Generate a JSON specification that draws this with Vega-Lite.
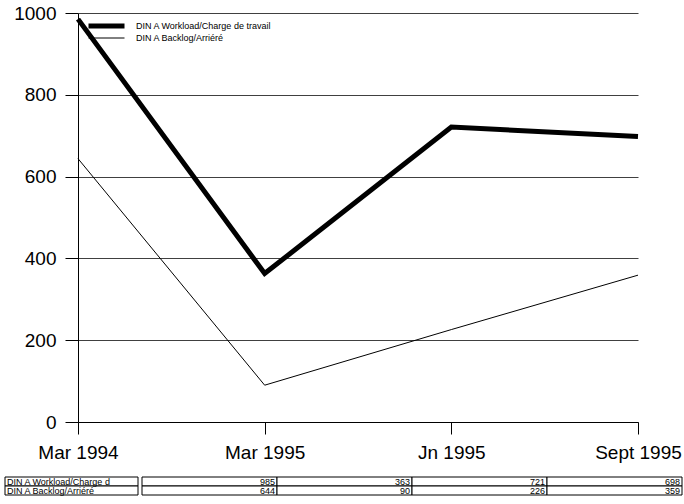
{
  "$schema": "https://vega.github.io/schema/vega-lite/v6.json",
  "background": "white",
  "padding": {"left": 4, "top": 4, "right": 0, "bottom": 0},
  "config": {"view": {"stroke": null}, "font": "Liberation Sans"},
  "spacing": 14,
  "datasets": {
    "rows": [
      {"period": "Mar 1994", "series": "DIN A Workload/Charge de travail", "tableLabel": "DIN A Workload/Charge d", "value": 985},
      {"period": "Mar 1995", "series": "DIN A Workload/Charge de travail", "tableLabel": "DIN A Workload/Charge d", "value": 363},
      {"period": "Jn 1995", "series": "DIN A Workload/Charge de travail", "tableLabel": "DIN A Workload/Charge d", "value": 721},
      {"period": "Sept 1995", "series": "DIN A Workload/Charge de travail", "tableLabel": "DIN A Workload/Charge d", "value": 698},
      {"period": "Mar 1994", "series": "DIN A Backlog/Arriéré", "tableLabel": "DIN A Backlog/Arriéré", "value": 644},
      {"period": "Mar 1995", "series": "DIN A Backlog/Arriéré", "tableLabel": "DIN A Backlog/Arriéré", "value": 90},
      {"period": "Jn 1995", "series": "DIN A Backlog/Arriéré", "tableLabel": "DIN A Backlog/Arriéré", "value": 226},
      {"period": "Sept 1995", "series": "DIN A Backlog/Arriéré", "tableLabel": "DIN A Backlog/Arriéré", "value": 359}
    ]
  },
  "vconcat": [
    {
      "width": 677,
      "height": 409,
      "data": {"name": "rows"},
      "mark": {"type": "line", "color": "black", "strokeJoin": "miter"},
      "encoding": {
        "x": {
          "field": "period", "type": "ordinal",
          "sort": ["Mar 1994", "Mar 1995", "Jn 1995", "Sept 1995"],
          "scale": {"type": "point", "padding": 0, "range": [73, 633]},
          "axis": {"title": null, "labelAngle": 0, "labelFontSize": 19, "labelColor": "black", "tickSize": 12, "tickColor": "black", "domainColor": "black", "labelPadding": 9, "grid": false}
        },
        "y": {
          "field": "value", "type": "quantitative",
          "scale": {"domain": [0, 1000], "nice": false},
          "axis": {"title": null, "offset": -73, "format": "d", "values": [0, 200, 400, 600, 800, 1000], "labelFontSize": 19, "labelColor": "black", "tickSize": 13, "tickColor": "black", "labelPadding": 9, "grid": true, "gridColor": "#404040", "gridOpacity": 1, "domainColor": "black"}
        },
        "strokeWidth": {
          "field": "series", "type": "nominal",
          "scale": {"domain": ["DIN A Workload/Charge de travail", "DIN A Backlog/Arriéré"], "range": [5, 1]},
          "legend": {"title": null, "orient": "none", "legendX": 81, "legendY": 7, "symbolType": "stroke", "symbolSize": 1296, "symbolStrokeColor": "black", "clipHeight": 12, "labelFontSize": 9, "labelColor": "black", "labelLimit": 300, "labelOffset": 9, "padding": 0, "rowPadding": 0}
        }
      }
    },
    {
      "hconcat": [
        {
          "width": 133,
          "height": 18,
          "data": {"name": "rows"},
          "transform": [{"filter": "datum.period === 'Mar 1994'"}],
          "encoding": {
            "y": {"field": "series", "type": "nominal", "sort": ["DIN A Workload/Charge de travail", "DIN A Backlog/Arriéré"], "scale": {"paddingInner": 0, "paddingOuter": 0}, "axis": null}
          },
          "layer": [
            {"mark": {"type": "rect", "fill": "white", "stroke": "black", "strokeWidth": 1},
             "encoding": {"x": {"datum": "label", "type": "nominal", "scale": {"paddingInner": 0, "paddingOuter": 0}, "axis": null}}},
            {"mark": {"type": "text", "align": "left", "baseline": "middle", "dx": 2, "fontSize": 9, "color": "black"},
             "encoding": {"x": {"datum": "label", "type": "nominal", "axis": null, "bandPosition": 0}, "text": {"field": "tableLabel"}}}
          ]
        },
        {
          "width": 540,
          "height": 18,
          "data": {"name": "rows"},
          "encoding": {
            "y": {"field": "series", "type": "nominal", "sort": ["DIN A Workload/Charge de travail", "DIN A Backlog/Arriéré"], "scale": {"paddingInner": 0, "paddingOuter": 0}, "axis": null}
          },
          "layer": [
            {"mark": {"type": "rect", "fill": "white", "stroke": "black", "strokeWidth": 1},
             "encoding": {"x": {"field": "period", "type": "ordinal", "sort": ["Mar 1994", "Mar 1995", "Jn 1995", "Sept 1995"], "scale": {"type": "band", "paddingInner": 0, "paddingOuter": 0}, "axis": null}}},
            {"mark": {"type": "text", "align": "right", "baseline": "middle", "dx": -2, "fontSize": 9, "color": "black"},
             "encoding": {"x": {"field": "period", "type": "ordinal", "sort": ["Mar 1994", "Mar 1995", "Jn 1995", "Sept 1995"], "axis": null, "bandPosition": 1}, "text": {"field": "value", "type": "quantitative"}}}
          ]
        }
      ],
      "spacing": 2
    }
  ]
}
